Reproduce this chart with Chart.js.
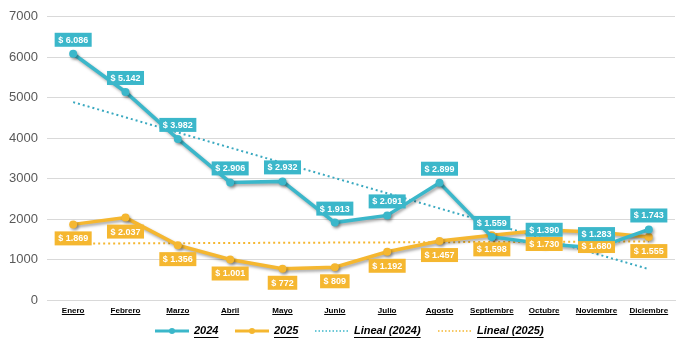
<!DOCTYPE html>
<html>
<head>
<meta charset="utf-8">
<script src="https://cdn.jsdelivr.net/npm/chart.js@4.4.1/dist/chart.umd.min.js"></script>
<style>
  html, body { margin: 0; padding: 0; background: #fff; }
  #wrap { width: 691px; height: 353px; }
</style>
</head>
<body>
<div id="wrap"><canvas id="chart" width="691" height="353"></canvas></div>
<script>
const months = ['Enero', 'Febrero', 'Marzo', 'Abril', 'Mayo', 'Junio', 'Julio', 'Agosto', 'Septiembre', 'Octubre', 'Noviembre', 'Diciembre'];
const values2024 = [6086, 5142, 3982, 2906, 2932, 1913, 2091, 2899, 1559, 1390, 1283, 1743];
const values2025 = [1869, 2037, 1356, 1001, 772, 809, 1192, 1457, 1598, 1730, 1680, 1555];
const yTicks = [0, 1000, 2000, 3000, 4000, 5000, 6000, 7000];

const teal = '#3bb7ca';
const gold = '#f5b730';
const font = '"Liberation Sans", Arial, sans-serif';

// linear trend (least squares), like Excel "Lineal"
function trend(values) {
  const n = values.length;
  const mx = (n - 1) / 2;
  const my = values.reduce((a, b) => a + b, 0) / n;
  let sxy = 0, sxx = 0;
  values.forEach((v, i) => { sxy += (i - mx) * (v - my); sxx += (i - mx) * (i - mx); });
  const slope = sxy / sxx;
  return values.map((v, i) => my + slope * (i - mx));
}

function money(v) {
  return '$ ' + String(v).replace(/\B(?=(\d{3})+(?!\d))/g, '.');
}

// gray shadow under the two main lines
const lineShadow = {
  id: 'lineShadow',
  beforeDatasetDraw(chart, args) {
    if (args.index > 1) return;
    const ctx = chart.ctx;
    ctx.save();
    ctx.shadowColor = 'rgba(0,0,0,0.35)';
    ctx.shadowBlur = 3;
    ctx.shadowOffsetX = 1.5;
    ctx.shadowOffsetY = 2;
  },
  afterDatasetDraw(chart, args) {
    if (args.index > 1) return;
    chart.ctx.restore();
  }
};

// boxed value labels: 2024 above, 2025 below
const valueLabels = {
  id: 'valueLabels',
  afterDatasetsDraw(chart) {
    const ctx = chart.ctx;
    ctx.save();
    ctx.font = 'bold 9px ' + font;
    ctx.textAlign = 'center';
    ctx.textBaseline = 'middle';
    [[1, 14, gold], [0, -14, teal]].forEach(([i, dy, color]) => {
      const ds = chart.data.datasets[i];
      chart.getDatasetMeta(i).data.forEach((pt, j) => {
        const txt = money(ds.data[j]);
        const w = ctx.measureText(txt).width + 7;
        const h = 14;
        const cx = pt.x, cy = pt.y + dy;
        ctx.fillStyle = color;
        ctx.fillRect(cx - w / 2, cy - h / 2, w, h);
        ctx.fillStyle = '#ffffff';
        ctx.fillText(txt, cx, cy + 0.5);
      });
    });
    ctx.restore();
  }
};

// underline x labels and draw the legend
const extras = {
  id: 'extras',
  afterDraw(chart) {
    const ctx = chart.ctx;
    const xs = chart.scales.x;
    ctx.save();
    ctx.font = 'bold 8px ' + font;
    ctx.strokeStyle = '#000';
    ctx.lineWidth = 1;
    months.forEach((m, i) => {
      const x = xs.getPixelForTick(i);
      const w = ctx.measureText(m).width;
      ctx.beginPath();
      ctx.moveTo(x - w / 2, 314.5);
      ctx.lineTo(x + w / 2, 314.5);
      ctx.stroke();
    });

    const items = [
      { text: '2024', color: teal, dotted: false, x: 155 },
      { text: '2025', color: gold, dotted: false, x: 235 },
      { text: 'Lineal (2024)', color: teal, dotted: true, x: 315 },
      { text: 'Lineal (2025)', color: gold, dotted: true, x: 438 }
    ];
    const y = 331;
    ctx.font = 'italic bold 11px ' + font;
    ctx.textBaseline = 'middle';
    ctx.textAlign = 'left';
    items.forEach(it => {
      ctx.strokeStyle = it.color;
      ctx.fillStyle = it.color;
      if (it.dotted) {
        ctx.lineWidth = 1.5;
        ctx.setLineDash([1.5, 2]);
      } else {
        ctx.lineWidth = 3;
        ctx.setLineDash([]);
      }
      ctx.beginPath();
      ctx.moveTo(it.x, y);
      ctx.lineTo(it.x + 34, y);
      ctx.stroke();
      ctx.setLineDash([]);
      if (!it.dotted) {
        ctx.beginPath();
        ctx.arc(it.x + 17, y, 3, 0, Math.PI * 2);
        ctx.fill();
      }
      const tx = it.x + 39;
      ctx.fillStyle = '#000';
      ctx.fillText(it.text, tx, y);
      const w = ctx.measureText(it.text).width;
      ctx.strokeStyle = '#000';
      ctx.lineWidth = 1;
      ctx.beginPath();
      ctx.moveTo(tx, y + 6.5);
      ctx.lineTo(tx + w, y + 6.5);
      ctx.stroke();
    });
    ctx.restore();
  }
};

new Chart('chart', {
  type: 'line',
  data: {
    labels: months,
    datasets: [
      {
        label: '2024',
        data: values2024,
        borderColor: teal,
        backgroundColor: teal,
        borderWidth: 3.5,
        pointRadius: 4,
        pointBackgroundColor: teal,
        pointBorderWidth: 0,
        tension: 0
      },
      {
        label: '2025',
        data: values2025,
        borderColor: gold,
        backgroundColor: gold,
        borderWidth: 3.5,
        pointRadius: 4,
        pointBackgroundColor: gold,
        pointBorderWidth: 0,
        tension: 0
      },
      {
        label: 'Lineal (2024)',
        data: trend(values2024),
        borderColor: '#3aa9c0',
        borderWidth: 2,
        borderDash: [2, 3],
        pointRadius: 0,
        tension: 0
      },
      {
        label: 'Lineal (2025)',
        data: trend(values2025),
        borderColor: gold,
        borderWidth: 2,
        borderDash: [2, 3],
        pointRadius: 0,
        tension: 0
      }
    ]
  },
  options: {
    responsive: false,
    animation: false,
    layout: { padding: { left: 0, right: 16, top: 16, bottom: 33 } },
    plugins: {
      legend: { display: false },
      tooltip: { enabled: false }
    },
    scales: {
      x: {
        offset: true,
        grid: { display: false },
        border: { display: true, color: '#d9d9d9', width: 1 },
        ticks: {
          color: '#000000',
          font: { family: font, size: 8, weight: 'bold' },
          padding: -2,
          maxRotation: 0,
          minRotation: 0,
          autoSkip: false
        },
        afterFit(scale) { scale.height = 20; }
      },
      y: {
        min: 0,
        max: 7000,
        afterBuildTicks(scale) { scale.ticks = yTicks.map(v => ({ value: v })); },
        grid: { color: '#d9d9d9', lineWidth: 1, drawTicks: false },
        border: { display: false },
        ticks: {
          color: '#595959',
          font: { family: font, size: 13 },
          padding: 9,
          callback: v => String(v)
        },
        afterFit(scale) { scale.width = 47; }
      }
    }
  },
  plugins: [lineShadow, valueLabels, extras]
});
</script>
</body>
</html>
